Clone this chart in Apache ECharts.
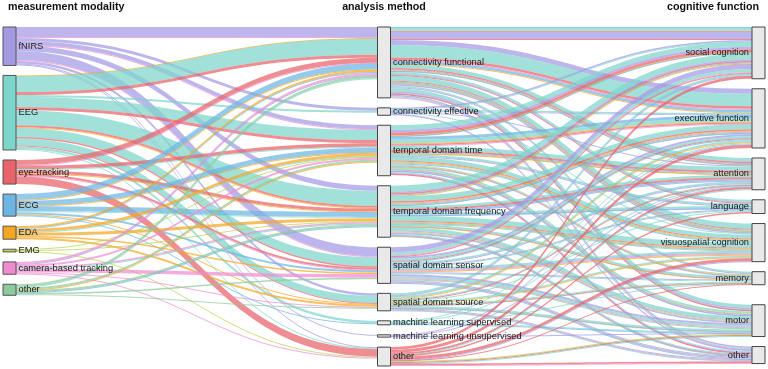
<!DOCTYPE html>
<html>
<head>
<meta charset="utf-8">
<script src="https://cdn.jsdelivr.net/npm/echarts@6/dist/echarts.min.js"></script>
<style>
  html, body { margin: 0; padding: 0; background: #fff; }
  #chart { width: 768px; height: 369px; }
</style>
</head>
<body>
<div id="chart"></div>
<script>
// columns
const modalityKeys = ['fNIRS', 'EEG', 'eye', 'ECG', 'EDA', 'EMG', 'cam', 'oth'];
const modalityNames = ['fNIRS', 'EEG', 'eye-tracking', 'ECG', 'EDA', 'EMG', 'camera-based tracking', 'other'];
const modalityColors = ['#a49ae4', '#7ed6cb', '#e8636a', '#6db6e3', '#f5a623', '#b5d44f', '#ee8ccf', '#8dc99a'];

const methodKeys = ['cf', 'ce', 'tt', 'tf', 'ss', 'so', 'mls', 'mlu', 'mo'];
const methodNames = ['connectivity functional', 'connectivity effective', 'temporal domain time',
  'temporal domain frequency', 'spatial domain sensor', 'spatial domain source',
  'machine learning supervised', 'machine learning unsupervised', 'other'];
const methodTotals = [70.6, 7.4, 50.3, 51.3, 36, 17.4, 4, 2.3, 18.8];

const functionKeys = ['soc', 'exe', 'att', 'lan', 'vis', 'mem', 'mot', 'fo'];
const functionNames = ['social cognition', 'executive function', 'attention', 'language',
  'visuospatial cognition', 'memory', 'motor', 'other'];

const headers = ['measurement modality', 'analysis method', 'cognitive function'];

// [modality, method, colour group, value]
const modalityToMethod = [
  ['fNIRS', 'cf', 'fNIRS', 10], ['fNIRS', 'cf', 'cam', 1], ['fNIRS', 'ce', 'fNIRS', 3],
  ['fNIRS', 'tt', 'fNIRS', 4], ['fNIRS', 'tt', 'cam', 0.8], ['fNIRS', 'tf', 'fNIRS', 5],
  ['fNIRS', 'ss', 'fNIRS', 9], ['fNIRS', 'ss', 'cam', 1], ['fNIRS', 'so', 'fNIRS', 2.5],
  ['fNIRS', 'mlu', 'fNIRS', 1], ['fNIRS', 'mo', 'fNIRS', 1],

  ['EEG', 'cf', 'EDA', 0.6], ['EEG', 'cf', 'EEG', 16], ['EEG', 'cf', 'eye', 3],
  ['EEG', 'ce', 'EEG', 2], ['EEG', 'tt', 'EEG', 10], ['EEG', 'tt', 'eye', 3],
  ['EEG', 'tf', 'EEG', 15], ['EEG', 'tf', 'eye', 2], ['EEG', 'tf', 'EDA', 0.7],
  ['EEG', 'ss', 'EEG', 9], ['EEG', 'ss', 'eye', 1.5], ['EEG', 'so', 'EEG', 7],
  ['EEG', 'so', 'eye', 1], ['EEG', 'mls', 'EEG', 2.5], ['EEG', 'mo', 'EEG', 1],

  ['eye', 'cf', 'eye', 5], ['eye', 'cf', 'cam', 0.6], ['eye', 'tt', 'eye', 3.5],
  ['eye', 'tt', 'EEG', 1], ['eye', 'tf', 'eye', 3], ['eye', 'tf', 'EDA', 0.6],
  ['eye', 'ss', 'eye', 2], ['eye', 'ss', 'cam', 0.8], ['eye', 'mo', 'eye', 7.5],

  ['ECG', 'cf', 'ECG', 6], ['ECG', 'cf', 'EDA', 0.6], ['ECG', 'tt', 'ECG', 5],
  ['ECG', 'tt', 'EDA', 0.6], ['ECG', 'tf', 'ECG', 5], ['ECG', 'tf', 'EEG', 1],
  ['ECG', 'ss', 'ECG', 2], ['ECG', 'so', 'EDA', 0.8], ['ECG', 'mls', 'ECG', 1],

  ['EDA', 'cf', 'EDA', 2], ['EDA', 'cf', 'ECG', 1], ['EDA', 'tt', 'EDA', 3],
  ['EDA', 'tt', 'EEG', 0.5], ['EDA', 'tf', 'EDA', 3], ['EDA', 'ss', 'EDA', 1.5],
  ['EDA', 'so', 'EDA', 2],

  ['EMG', 'tt', 'EMG', 0.9], ['EMG', 'tf', 'EMG', 0.9], ['EMG', 'mo', 'EMG', 0.9],

  ['cam', 'cf', 'cam', 2], ['cam', 'cf', 'fNIRS', 0.8], ['cam', 'tt', 'cam', 2],
  ['cam', 'tf', 'cam', 1.5], ['cam', 'tf', 'EEG', 0.7], ['cam', 'ss', 'cam', 3.5],
  ['cam', 'so', 'cam', 1], ['cam', 'mo', 'cam', 0.8],

  ['oth', 'cf', 'oth', 2.5], ['oth', 'cf', 'EEG', 1], ['oth', 'tt', 'oth', 2],
  ['oth', 'tt', 'EDA', 0.5], ['oth', 'tf', 'oth', 2], ['oth', 'tf', 'ECG', 0.5],
  ['oth', 'ss', 'oth', 1.5], ['oth', 'so', 'oth', 1]
];

// [method, function, colour group, value]
const methodToFunction = [
  ['cf', 'soc', 'ECG', 1], ['cf', 'soc', 'EEG', 2.5], ['cf', 'soc', 'EDA', 0.5], ['cf', 'soc', 'fNIRS', 8], ['cf', 'soc', 'eye', 1],
  ['cf', 'exe', 'fNIRS', 5], ['cf', 'exe', 'EEG', 12.4], ['cf', 'exe', 'eye', 2.5], ['cf', 'exe', 'cam', 1.3], ['cf', 'exe', 'ECG', 2.5], ['cf', 'exe', 'EDA', 0.5],
  ['cf', 'att', 'EEG', 3.6], ['cf', 'att', 'eye', 1.5], ['cf', 'att', 'fNIRS', 1], ['cf', 'att', 'EDA', 0.5], ['cf', 'att', 'ECG', 1],
  ['cf', 'lan', 'EEG', 2], ['cf', 'lan', 'fNIRS', 1], ['cf', 'lan', 'eye', 0.8],
  ['cf', 'vis', 'EEG', 5], ['cf', 'vis', 'eye', 1], ['cf', 'vis', 'ECG', 1], ['cf', 'vis', 'EDA', 0.5], ['cf', 'vis', 'oth', 1], ['cf', 'vis', 'fNIRS', 1.5],
  ['cf', 'mem', 'EEG', 1.5], ['cf', 'mem', 'fNIRS', 1],
  ['cf', 'mot', 'EEG', 3], ['cf', 'mot', 'fNIRS', 1.5], ['cf', 'mot', 'cam', 0.5], ['cf', 'mot', 'oth', 0.5], ['cf', 'mot', 'eye', 1],
  ['cf', 'fo', 'fNIRS', 1.5], ['cf', 'fo', 'EEG', 1], ['cf', 'fo', 'cam', 0.5],

  ['ce', 'soc', 'fNIRS', 1.5], ['ce', 'soc', 'EEG', 0.5], ['ce', 'exe', 'EEG', 1.5], ['ce', 'exe', 'fNIRS', 0.5],
  ['ce', 'att', 'fNIRS', 1], ['ce', 'vis', 'EEG', 1], ['ce', 'fo', 'fNIRS', 1.4],

  ['tt', 'soc', 'EEG', 4.7], ['tt', 'soc', 'fNIRS', 2.5], ['tt', 'soc', 'eye', 3], ['tt', 'soc', 'EDA', 0.5], ['tt', 'soc', 'ECG', 0.8],
  ['tt', 'exe', 'ECG', 3], ['tt', 'exe', 'EEG', 3.5], ['tt', 'exe', 'EDA', 1], ['tt', 'exe', 'eye', 1.1], ['tt', 'exe', 'cam', 0.5],
  ['tt', 'att', 'EEG', 4], ['tt', 'att', 'eye', 2], ['tt', 'att', 'fNIRS', 1], ['tt', 'att', 'oth', 0.5], ['tt', 'att', 'EDA', 0.5],
  ['tt', 'lan', 'EEG', 2], ['tt', 'lan', 'fNIRS', 0.4],
  ['tt', 'vis', 'EEG', 4], ['tt', 'vis', 'eye', 1], ['tt', 'vis', 'EDA', 1], ['tt', 'vis', 'oth', 1], ['tt', 'vis', 'ECG', 1],
  ['tt', 'mem', 'EEG', 1], ['tt', 'mem', 'EDA', 0.8], ['tt', 'mem', 'fNIRS', 0.5],
  ['tt', 'mot', 'EEG', 2], ['tt', 'mot', 'EMG', 0.7], ['tt', 'mot', 'fNIRS', 1], ['tt', 'mot', 'cam', 0.5], ['tt', 'mot', 'ECG', 1],
  ['tt', 'fo', 'EEG', 1], ['tt', 'fo', 'fNIRS', 0.5], ['tt', 'fo', 'cam', 0.5], ['tt', 'fo', 'eye', 0.5],

  ['tf', 'soc', 'EEG', 6], ['tf', 'soc', 'fNIRS', 1.5], ['tf', 'soc', 'eye', 1.4], ['tf', 'soc', 'ECG', 1], ['tf', 'soc', 'EDA', 0.5],
  ['tf', 'exe', 'EEG', 5], ['tf', 'exe', 'eye', 1.5], ['tf', 'exe', 'EDA', 1], ['tf', 'exe', 'fNIRS', 0.9], ['tf', 'exe', 'oth', 0.5], ['tf', 'exe', 'ECG', 1],
  ['tf', 'att', 'EEG', 2.7], ['tf', 'att', 'eye', 2], ['tf', 'att', 'ECG', 1.5], ['tf', 'att', 'fNIRS', 0.5],
  ['tf', 'lan', 'EEG', 2], ['tf', 'lan', 'fNIRS', 0.5], ['tf', 'lan', 'ECG', 0.5],
  ['tf', 'vis', 'EEG', 4.8], ['tf', 'vis', 'eye', 1], ['tf', 'vis', 'EDA', 1], ['tf', 'vis', 'ECG', 1], ['tf', 'vis', 'oth', 0.4],
  ['tf', 'mem', 'EEG', 2], ['tf', 'mem', 'fNIRS', 0.5], ['tf', 'mem', 'EDA', 0.5],
  ['tf', 'mot', 'EEG', 3.2], ['tf', 'mot', 'fNIRS', 1], ['tf', 'mot', 'EMG', 0.9], ['tf', 'mot', 'cam', 0.7], ['tf', 'mot', 'ECG', 1],
  ['tf', 'fo', 'EEG', 1], ['tf', 'fo', 'fNIRS', 0.5], ['tf', 'fo', 'cam', 0.5], ['tf', 'fo', 'oth', 0.5],

  ['ss', 'soc', 'fNIRS', 5], ['ss', 'soc', 'EEG', 3], ['ss', 'soc', 'cam', 1], ['ss', 'soc', 'eye', 0.5],
  ['ss', 'exe', 'fNIRS', 2], ['ss', 'exe', 'EEG', 2], ['ss', 'exe', 'eye', 1], ['ss', 'exe', 'ECG', 1],
  ['ss', 'att', 'EEG', 1.7], ['ss', 'att', 'fNIRS', 1],
  ['ss', 'lan', 'fNIRS', 1], ['ss', 'lan', 'EEG', 1],
  ['ss', 'vis', 'EEG', 2], ['ss', 'vis', 'fNIRS', 1], ['ss', 'vis', 'cam', 1], ['ss', 'vis', 'EDA', 0.8],
  ['ss', 'mem', 'fNIRS', 1], ['ss', 'mem', 'EEG', 1],
  ['ss', 'mot', 'fNIRS', 2], ['ss', 'mot', 'EEG', 2], ['ss', 'mot', 'cam', 1], ['ss', 'mot', 'oth', 1],
  ['ss', 'fo', 'fNIRS', 1], ['ss', 'fo', 'EEG', 0.5], ['ss', 'fo', 'cam', 1], ['ss', 'fo', 'ECG', 0.5],

  ['so', 'soc', 'EEG', 2], ['so', 'soc', 'fNIRS', 0.5], ['so', 'exe', 'EEG', 2], ['so', 'exe', 'EDA', 1],
  ['so', 'att', 'EEG', 1], ['so', 'att', 'eye', 0.5], ['so', 'lan', 'EEG', 1],
  ['so', 'vis', 'EEG', 1.5], ['so', 'vis', 'EDA', 1],
  ['so', 'mem', 'EEG', 1], ['so', 'mem', 'EDA', 0.5], ['so', 'mem', 'fNIRS', 0.5],
  ['so', 'mot', 'EEG', 1.5], ['so', 'mot', 'fNIRS', 0.5], ['so', 'mot', 'oth', 0.5],
  ['so', 'fo', 'fNIRS', 1], ['so', 'fo', 'cam', 0.8], ['so', 'fo', 'EEG', 0.6],

  ['mls', 'exe', 'EEG', 1], ['mls', 'att', 'EEG', 1], ['mls', 'mem', 'EEG', 0.5],
  ['mls', 'mot', 'EEG', 1], ['mls', 'mot', 'ECG', 0.5],

  ['mlu', 'exe', 'fNIRS', 0.8], ['mlu', 'att', 'fNIRS', 0.7], ['mlu', 'mot', 'fNIRS', 0.8],

  ['mo', 'soc', 'eye', 2.7], ['mo', 'exe', 'eye', 3], ['mo', 'att', 'eye', 2], ['mo', 'att', 'EEG', 0.5],
  ['mo', 'lan', 'eye', 1.5], ['mo', 'vis', 'eye', 3], ['mo', 'vis', 'fNIRS', 0.5], ['mo', 'mem', 'eye', 0.7],
  ['mo', 'mot', 'EMG', 0.9], ['mo', 'mot', 'eye', 1], ['mo', 'mot', 'EEG', 0.5],
  ['mo', 'fo', 'eye', 1.5], ['mo', 'fo', 'cam', 0.7]
];

const FONT = '"Liberation Sans", Arial, Helvetica, sans-serif';
const labelOf = {};
const colorOf = {};
modalityKeys.forEach((k, i) => { colorOf[k] = modalityColors[i]; });

const nodes = [];
modalityKeys.forEach((k, i) => {
  labelOf['M-' + k] = modalityNames[i];
  nodes.push({ name: 'M-' + k, depth: 0, itemStyle: { color: modalityColors[i], borderColor: '#555' } });
});
methodKeys.forEach((k, i) => {
  labelOf['A-' + k] = methodNames[i];
  nodes.push({ name: 'A-' + k, depth: 1, value: methodTotals[i] });
});
functionKeys.forEach((k, i) => {
  labelOf['C-' + k] = functionNames[i];
  nodes.push({ name: 'C-' + k, depth: 2, label: { position: 'left', distance: 2.5 } });
  if (k === 'mem') {
    // empty spacer: the reference leaves a wider gap above "motor"
    nodes.push({ name: 'spacer', depth: 2, value: 0.0001,
      itemStyle: { color: 'transparent', borderWidth: 0 }, label: { show: false } });
  }
});

const links = [];
modalityToMethod.forEach(l => {
  links.push({ source: 'M-' + l[0], target: 'A-' + l[1], value: l[3], lineStyle: { color: colorOf[l[2]] } });
});
methodToFunction.forEach(l => {
  links.push({ source: 'A-' + l[0], target: 'C-' + l[1], value: l[3], lineStyle: { color: colorOf[l[2]] } });
});

const headStyle = { fontFamily: FONT, fontSize: 10.7, fontWeight: 'bold', color: '#111' };

const myChart = echarts.init(document.getElementById('chart'));
myChart.setOption({
  animation: false,
  backgroundColor: '#fff',
  title: [
    { text: headers[0], left: 8, top: 2, padding: 0, textStyle: headStyle },
    { text: headers[1], left: 'center', top: 2, padding: 0, textStyle: headStyle },
    { text: headers[2], right: 9, top: 2, padding: 0, textStyle: headStyle }
  ],
  series: [{
    type: 'sankey',
    left: 3, right: 3, top: 27, bottom: 3,
    nodeWidth: 13,
    nodeGap: 10,
    nodeAlign: 'justify',
    layoutIterations: 0,
    draggable: false,
    emphasis: { disabled: true },
    data: nodes,
    links: links,
    itemStyle: { color: '#e9e9e9', borderColor: '#444', borderWidth: 1 },
    lineStyle: { opacity: 0.72, curveness: 0.5 },
    label: {
      position: 'right',
      distance: 2,
      color: '#1a1a1a',
      fontFamily: FONT,
      fontSize: 9.3,
      formatter: p => labelOf[p.name] || ''
    }
  }]
});
</script>
</body>
</html>
